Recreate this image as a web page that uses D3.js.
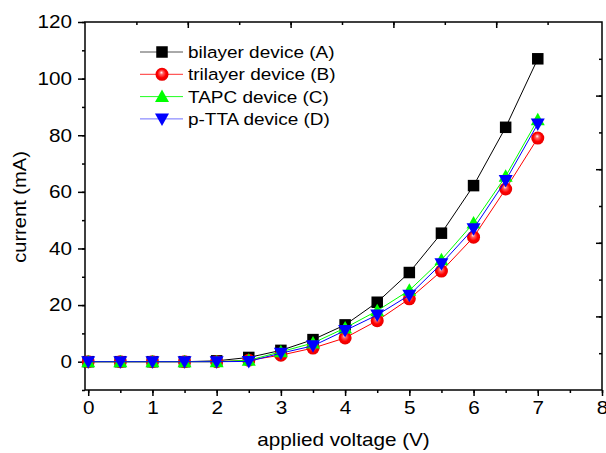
<!DOCTYPE html>
<meta charset="utf-8">
<style>
body { margin: 0; background: #fff; }
svg text { font-family: "Liberation Sans", Arial, sans-serif; fill: #000; }
.axis path, .axis line { stroke: #000; stroke-width: 1.5; fill: none; }
.axis text { font-size: 18px; }
.line { fill: none; stroke-width: 1; }
</style>
<svg class="chart"></svg>
<script src="https://d3js.org/d3.v7.min.js"></script>
<script>

var voltage = [0, 0.5, 1, 1.5, 2, 2.5, 3, 3.5, 4, 4.5, 5, 5.5, 6, 6.5, 7];
var bilayer = [0, 0, 0, 0, 0.3, 1.5, 4, 7.8, 13, 21, 31.5, 45.4, 62.2, 82.8, 107];
var trilayer = [0, 0, 0, 0, 0, 0.5, 2.3, 4.8, 8.4, 14.5, 22.2, 32, 44, 61, 79];
var tapc = [0, 0, 0, 0, 0, 0.5, 3.5, 6.6, 11.9, 18, 25.2, 36, 49, 65.5, 85.5];
var ptta = [0, 0, 0, 0, 0, 0.1, 3, 5.6, 11, 16.5, 23.5, 34.6, 47, 64, 84];
var seriesNames = ["bilayer device (A)", "trilayer device (B)", "TAPC device (C)", "p-TTA device (D)"];
var yTicks = [0, 20, 40, 60, 80, 100, 120];
var xTicks = [0, 1, 2, 3, 4, 5, 6, 7, 8];

var margin = {top: 22, right: 4, bottom: 63, left: 85},
    width = 606 - margin.left - margin.right,
    height = 453 - margin.top - margin.bottom;

var stretch = 1.15;   // the original text is a bit wider than Arial

var svg = d3.select(".chart")
    .attr("width", 606)
    .attr("height", 453);

var chart = svg.append("g")
    .attr("transform", "translate(" + margin.left + "," + margin.top + ")");

var x = d3.scaleLinear().domain([-0.05, 8]).range([0, width]);
var y = d3.scaleLinear().domain([-10, 120]).range([height, 0]);
// top and right axes in the original are not linked to the data scales
var xTop = d3.scaleLinear().domain([0, 10]).range([0, width - 3]);
var yRight = d3.scaleLinear().domain([0, 10]).range([height, 0]);

function minor(scale, step) {
  var d = scale.domain(), out = [];
  for (var v = Math.ceil(d[0] / step) * step; v <= d[1] + 1e-9; v += step) out.push(+v.toFixed(3));
  return out;
}

// minor ticks
chart.append("g").attr("class", "axis")
    .attr("transform", "translate(0," + height + ")")
    .call(d3.axisBottom(x).tickValues(minor(x, 0.5)).tickSize(3).tickFormat(""))
    .select(".domain").remove();
chart.append("g").attr("class", "axis")
    .call(d3.axisLeft(y).tickValues(minor(y, 10)).tickSize(3).tickFormat(""))
    .select(".domain").remove();
chart.append("g").attr("class", "axis")
    .call(d3.axisBottom(xTop).tickValues(d3.range(1, 10)).tickSize(3).tickFormat(""))
    .select(".domain").remove();
chart.append("g").attr("class", "axis")
    .attr("transform", "translate(" + width + ",0)")
    .call(d3.axisLeft(yRight).tickValues(d3.range(1, 10)).tickSize(3).tickFormat(""))
    .select(".domain").remove();
chart.append("g").attr("class", "axis")
    .call(d3.axisBottom(xTop).tickValues([2, 4, 6, 8]).tickSize(6).tickFormat(""))
    .select(".domain").remove();
chart.append("g").attr("class", "axis")
    .attr("transform", "translate(" + width + ",0)")
    .call(d3.axisLeft(yRight).tickValues([2, 4, 6, 8]).tickSize(6).tickFormat(""))
    .select(".domain").remove();

// major ticks with labels
var xAx = chart.append("g").attr("class", "axis")
    .attr("transform", "translate(0," + height + ")")
    .call(d3.axisBottom(x).tickValues(xTicks).tickSize(6).tickPadding(5).tickFormat(d3.format("d")));
xAx.select(".domain").remove();
xAx.selectAll("text").attr("transform", "scale(" + stretch + ",1)");

var yAx = chart.append("g").attr("class", "axis")
    .call(d3.axisLeft(y).tickValues(yTicks).tickSize(7).tickPadding(6).tickFormat(d3.format("d")));
yAx.select(".domain").remove();
yAx.selectAll("text").each(function() {
  var t = d3.select(this), tx = +t.attr("x");
  t.attr("x", 0).attr("transform", "translate(" + tx + ",0) scale(" + stretch + ",1)");
});

chart.append("rect")
    .attr("width", width).attr("height", height)
    .attr("fill", "none").attr("stroke", "#000").attr("stroke-width", 1.5);

// series
var defs = svg.append("defs");
var grad = defs.append("radialGradient").attr("id", "ball")
    .attr("cx", "50%").attr("cy", "50%").attr("r", "55%")
    .attr("fx", "45%").attr("fy", "35%");
grad.append("stop").attr("offset", "0%").attr("stop-color", "#fff");
grad.append("stop").attr("offset", "25%").attr("stop-color", "#ff6060");
grad.append("stop").attr("offset", "60%").attr("stop-color", "#ff0000");
grad.append("stop").attr("offset", "100%").attr("stop-color", "#e00000");

var series = [
  {name: seriesNames[0], values: bilayer, color: "#000", legendColor: "#555", shape: "square", fill: "#000"},
  {name: seriesNames[1], values: trilayer, color: "#ff0000", legendColor: "#ff3030", shape: "ball", fill: "url(#ball)"},
  {name: seriesNames[2], values: tapc, color: "#00ff00", legendColor: "#20ff20", shape: "up", fill: "#00ff00"},
  {name: seriesNames[3], values: ptta, color: "#0000ff", legendColor: "#7070ff", shape: "down", fill: "#0000ff"}
];

function drawMarker(g, s) {
  if (s.shape === "square") {
    g.append("rect").attr("x", -5.75).attr("y", -5.75).attr("width", 11.5).attr("height", 11.5).attr("fill", s.fill);
  } else if (s.shape === "ball") {
    g.append("circle").attr("r", 6.5).attr("fill", s.fill);
  } else if (s.shape === "up") {
    g.append("path").attr("d", "M0,-7L7,5.5L-7,5.5Z").attr("fill", s.fill);
  } else {
    g.append("path").attr("d", "M0,7L7,-5.5L-7,-5.5Z").attr("fill", s.fill);
  }
}

var line = d3.line()
    .x(function(d, i) { return x(voltage[i]); })
    .y(function(d) { return y(d); });

series.forEach(function(s) {
  chart.append("path").attr("class", "line")
      .attr("d", line(s.values))
      .attr("stroke", s.color);
  s.values.forEach(function(v, i) {
    var g = chart.append("g").attr("transform", "translate(" + x(voltage[i]) + "," + y(v) + ")");
    drawMarker(g, s);
  });
});

// legend
var legend = svg.append("g").attr("transform", "translate(140,52)");
series.forEach(function(s, i) {
  var row = legend.append("g").attr("transform", "translate(0," + (i * 22.3) + ")");
  row.append("line").attr("x1", 0).attr("x2", 43).attr("stroke", s.legendColor).attr("stroke-width", 1);
  drawMarker(row.append("g").attr("transform", "translate(22,0)"), s);
  row.append("text").attr("dy", "0.36em")
      .attr("transform", "translate(48,0) scale(" + stretch + ",1)")
      .style("font-size", "16.5px").text(s.name);
});

// axis titles
svg.append("text")
    .attr("transform", "translate(" + (margin.left + width / 2) + ",446) scale(" + stretch + ",1)")
    .attr("text-anchor", "middle").style("font-size", "18px")
    .text("applied voltage (V)");
svg.append("text")
    .attr("transform", "translate(26,207) rotate(-90) scale(" + stretch + ",1)")
    .attr("text-anchor", "middle").style("font-size", "17.5px")
    .text("current (mA)");
</script>
